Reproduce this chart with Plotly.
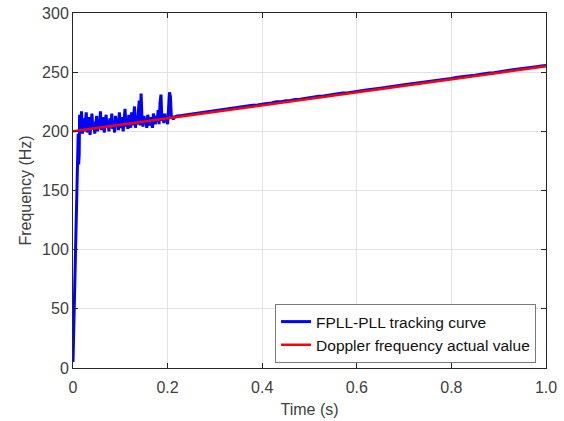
import plotly.graph_objects as go

# Blue: FPLL-PLL tracking curve
t_blue = [0.000, 0.002, 0.004, 0.006, 0.008, 0.010, 0.011, 0.012, 0.013,
          0.014, 0.016, 0.018, 0.020, 0.022, 0.024, 0.026, 0.028, 0.030, 0.032,
          0.034, 0.036, 0.038, 0.040, 0.042, 0.044, 0.046, 0.048, 0.050, 0.052,
          0.054, 0.056, 0.058, 0.060, 0.062, 0.064, 0.066, 0.068, 0.070, 0.072,
          0.074, 0.076, 0.078, 0.080, 0.082, 0.084, 0.086, 0.088, 0.090, 0.092,
          0.094, 0.096, 0.098, 0.100, 0.102, 0.104, 0.106, 0.108, 0.110, 0.112,
          0.114, 0.116, 0.118, 0.120, 0.122, 0.124, 0.126, 0.128, 0.130, 0.132,
          0.134, 0.136, 0.138, 0.140, 0.142, 0.144, 0.146, 0.148, 0.150, 0.152,
          0.154, 0.156, 0.158, 0.160, 0.162, 0.164, 0.166, 0.168, 0.170, 0.172,
          0.174, 0.176, 0.178, 0.180, 0.182, 0.184, 0.186, 0.188, 0.190, 0.192,
          0.194, 0.196, 0.198, 0.200, 0.202, 0.204, 0.206, 0.208, 0.210, 0.212,
          0.214,
          0.22, 0.23, 0.24, 0.25, 0.26, 0.27, 0.28, 0.29, 0.30,
          0.31, 0.32, 0.33, 0.34, 0.35, 0.36, 0.37, 0.38, 0.39, 0.40,
          0.41, 0.42, 0.43, 0.44, 0.45, 0.46, 0.47, 0.48, 0.49, 0.50,
          0.51, 0.52, 0.53, 0.54, 0.55, 0.56, 0.57, 0.58, 0.59, 0.60,
          0.61, 0.62, 0.63, 0.64, 0.65, 0.66, 0.67, 0.68, 0.69, 0.70,
          0.71, 0.72, 0.73, 0.74, 0.75, 0.76, 0.77, 0.78, 0.79, 0.80,
          0.81, 0.82, 0.83, 0.84, 0.85, 0.86, 0.87, 0.88, 0.89, 0.90,
          0.91, 0.92, 0.93, 0.94, 0.95, 0.96, 0.97, 0.98, 0.99, 1.00]
f_blue = [5, 40, 85, 125, 160, 185, 198, 172, 180,
          214, 201, 217, 198, 211, 200, 207, 216, 199, 205,
          212, 197, 209, 215, 202, 208, 198, 206, 213, 200,
          210, 204, 217, 201, 207, 212, 199, 206, 214, 203,
          209, 200, 211, 205, 215, 202, 208, 199, 213, 204,
          210, 201, 216, 206, 203, 212, 200, 209, 219, 204,
          210, 202, 214, 207, 203, 216, 205, 211, 221, 203,
          212, 206, 215, 226, 205, 232, 209, 204, 213, 207,
          211, 203, 214, 208, 205, 212, 207, 203, 215, 209,
          206, 213, 208, 218, 206, 224, 231, 209, 213, 207,
          215, 208, 212, 206, 222, 233, 229, 211, 213, 210,
          212,
          213.0, 213.3, 213.9, 214.8, 215.0, 215.8, 216.2, 216.9, 217.4,
          218.0, 218.7, 219.1, 219.8, 220.1, 221.0, 221.3, 222.0, 222.3, 223.1,
          223.5, 224.0, 224.9, 225.0, 225.9, 226.1, 227.0, 227.2, 227.9, 228.4,
          228.9, 229.6, 229.9, 230.6, 231.0, 231.6, 232.3, 232.5, 233.3, 233.6,
          234.4, 235.0, 235.3, 236.1, 236.5, 237.0, 237.8, 238.0, 238.8, 239.3,
          239.8, 240.5, 240.9, 241.6, 242.0, 242.7, 243.1, 243.6, 244.4, 244.7,
          245.5, 245.8, 246.6, 247.0, 247.5, 248.2, 248.5, 249.3, 249.6, 250.4,
          250.8, 251.4, 252.0, 252.4, 253.1, 253.5, 254.2, 254.6, 255.2, 255.6]

# Red: Doppler frequency actual value
t_red = [0.0, 1.0]
f_red = [200.0, 255.0]

x_ticks = [0, 0.2, 0.4, 0.6, 0.8, 1.0]
x_ticklabels = ["0", "0.2", "0.4", "0.6", "0.8", "1.0"]
y_ticks = [0, 50, 100, 150, 200, 250, 300]

font_family = "Liberation Sans, Arial, sans-serif"
axis_color = "#262626"
text_color = "#404040"

fig = go.Figure()
fig.add_trace(go.Scatter(x=t_blue, y=f_blue, mode="lines",
                         line=dict(color="#0000ff", width=3),
                         name="FPLL-PLL tracking curve"))
fig.add_trace(go.Scatter(x=t_red, y=f_red, mode="lines",
                         line=dict(color="#ff0000", width=2.5),
                         name="Doppler frequency actual value"))

axis_common = dict(
    showline=True, linecolor=axis_color, linewidth=1, mirror="ticks",
    ticks="inside", ticklen=5, tickcolor=axis_color,
    showgrid=True, gridcolor="#e3e3e3", gridwidth=1,
    zeroline=False, automargin=False,
    tickfont=dict(family=font_family, size=16, color=text_color),
)

fig.update_layout(
    width=564, height=421,
    margin=dict(l=73, r=18, t=13, b=53, autoexpand=False),
    paper_bgcolor="white", plot_bgcolor="white",
    font=dict(family=font_family, color=text_color),
    xaxis=dict(range=[0, 1], tickvals=x_ticks, ticktext=x_ticklabels,
               ticklabelstandoff=5,
               title=dict(text="Time (s)", font=dict(size=16, color=text_color), standoff=8),
               **axis_common),
    yaxis=dict(range=[0, 300], tickvals=y_ticks,
               title=dict(text="Frequency (Hz)", font=dict(size=16, color=text_color), standoff=6),
               **axis_common),
    legend=dict(x=0.979, y=0.014, xanchor="right", yanchor="bottom",
                bgcolor="white", bordercolor="#7a7a7a", borderwidth=1,
                font=dict(family=font_family, size=15.5, color="#111111"),
                tracegroupgap=0),
    showlegend=True,
)

fig.write_html("out.html", config={"displayModeBar": False},
               post_script="document.body.style.margin='0';")
